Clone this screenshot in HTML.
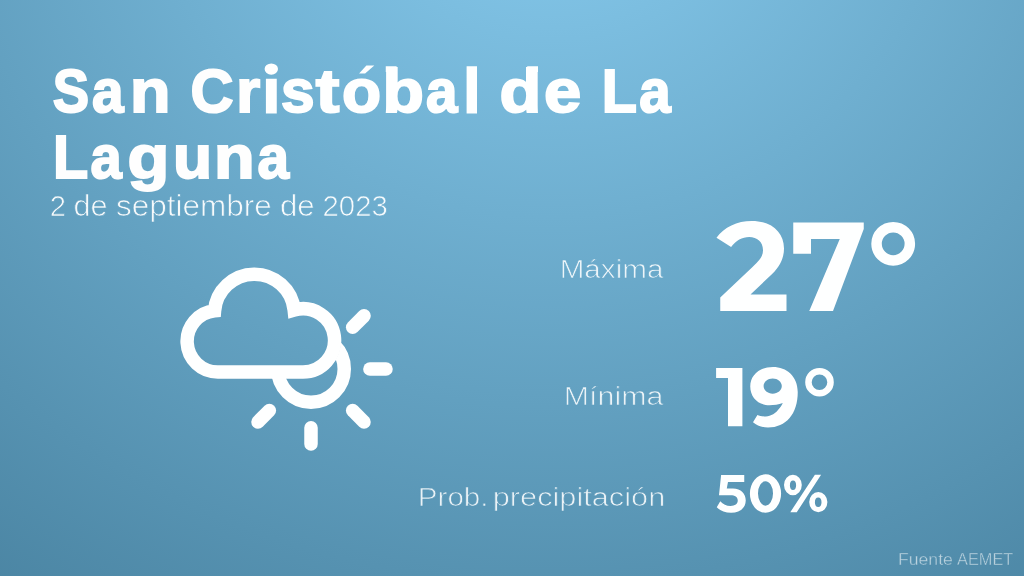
<!DOCTYPE html>
<html lang="es"><head><meta charset="utf-8"><title>El tiempo</title>
<style>
html,body{margin:0;padding:0}
body{width:1024px;height:576px;overflow:hidden;position:relative;background:radial-gradient(ellipse 1200px 1100px at 550px -150px,rgb(136,204,239) 0%,rgb(61,117,146) 100%);}
svg{position:absolute;left:0;top:0;font-family:"Liberation Sans",sans-serif;opacity:.999;will-change:opacity}
</style></head><body>
<svg width="1024" height="576" viewBox="0 0 1024 576">
<defs><radialGradient id="bg" gradientUnits="userSpaceOnUse" cx="550" cy="-150" r="1100" gradientTransform="translate(550 -150) scale(1.0909 1) translate(-550 150)"><stop offset="0" stop-color="rgb(136,204,239)"/><stop offset="1" stop-color="rgb(61,117,146)"/></radialGradient><mask id="m" maskUnits="userSpaceOnUse" x="0" y="0" width="1024" height="576"><rect width="1024" height="576" fill="#fff"/><path d="M217.80 371.95 A30.65 30.65 0 0 1 214.54 310.82 A40 40 0 0 1 294.18 309.99 A31.6 31.6 0 1 1 302.75 371.95 Z" fill="#000" stroke="#000" stroke-width="12.3" stroke-linejoin="miter"/></mask></defs>
<circle cx="311" cy="368.9" r="33.25" fill="none" stroke="#fff" stroke-width="13.5" mask="url(#m)"/>
<path d="M217.80 371.95 A30.65 30.65 0 0 1 214.54 310.82 A40 40 0 0 1 294.18 309.99 A31.6 31.6 0 1 1 302.75 371.95 Z" fill="none" stroke="#fff" stroke-width="13.5" stroke-linejoin="miter"/>
<g stroke="#fff" stroke-width="13.5" stroke-linecap="round"><line x1="352.65" y1="327.25" x2="364.03" y2="315.87"/><line x1="369.90" y1="368.90" x2="386.00" y2="368.90"/><line x1="352.65" y1="410.55" x2="364.03" y2="421.93"/><line x1="311.00" y1="427.80" x2="311.00" y2="443.90"/><line x1="269.35" y1="410.55" x2="257.97" y2="421.93"/></g>
<circle cx="893.2" cy="243.8" r="16.65" fill="none" stroke="#fff" stroke-width="10.5"/><circle cx="819.5" cy="382.2" r="11.05" fill="none" stroke="#fff" stroke-width="6.5"/>
<g fill="#fff" fill-rule="evenodd">
<path d="M716.5 237.75C724 227 737 220.9 751.75 220.9C771 220.9 784 232 784 248.4C784 256 781.5 265 772.1 274L750.5 294.4H786.5V311H720.25V297.5L752.5 267C760 260 763 256 763 250.25C763 242 757 237.1 749.25 237.1C742 237.1 736 240.5 731.1 247.1Z"/>
<path d="M793.25 222.5H863.75V229L833 311H809.25L839.75 239H811V253.75H793.25Z"/>
<path d="M716.1 368.1H742.4V426.25H728V378.1H716.1Z"/>
<path d="M773 366.9C786.5 366.9 797.75 376 797.75 392C797.75 414 786 427.5 768 427.5C762 427.5 757 425.5 753 422.25L757.4 415C762 417.5 772 417.5 778 410C780.5 407.5 782 405 782.75 403.1C778.5 404.6 774 405.3 769.5 405.3C758.5 405.3 750.25 397.5 750.25 386.5C750.25 375 760 366.9 773 366.9ZM772.7 378.5C767.7 378.5 763.6 381.9 763.6 386.1C763.6 390.3 767.7 393.7 772.7 393.7C777.7 393.7 781.8 390.3 781.8 386.1C781.8 381.9 777.7 378.5 772.7 378.5Z"/>

<path d="M721.1 475H744.25V481.9H728L726.75 488.5H733C741 488.5 745.75 493.5 745.75 500.6C745.75 508 740 512.75 731.1 512.75C725 512.75 720 510.5 716.75 507.25L720.25 501.25C723 504 726.5 506 730.5 506C735 506 737.75 504 737.75 500.6C737.75 497 735 495.25 730.5 495.25H719Z"/>
<path d="M749.90 493.60A15.6 19.2 0 1 0 781.10 493.60A15.6 19.2 0 1 0 749.90 493.60ZM758.00 493.45A7.5 12.2 0 1 0 773.00 493.45A7.5 12.2 0 1 0 758.00 493.45Z"/>
<path d="M784.00 485.00A8.9 10.25 0 1 0 801.80 485.00A8.9 10.25 0 1 0 784.00 485.00ZM789.90 485.30A3.1 4.7 0 1 0 796.10 485.30A3.1 4.7 0 1 0 789.90 485.30ZM809.20 502.10A9.1 10.2 0 1 0 827.40 502.10A9.1 10.2 0 1 0 809.20 502.10ZM814.90 502.20A3.3 4.7 0 1 0 821.50 502.20A3.3 4.7 0 1 0 814.90 502.20ZM814.9 474.75H821.1L796.75 512.25H790.25Z"/>

<path d="M385.75 66.25H396.6V72H385.75ZM466.6 66.25H477V113.4H466.6ZM527.2 66.25H538V72H527.2ZM265.9 78.75H276.75V113.4H265.9ZM264.60 69.10A6.7 5.65 0 1 0 278.00 69.10A6.7 5.65 0 1 0 264.60 69.10Z"/>

<path d="M366.4 65.4H374.3L365.1 73.6H359.1Z"/>
</g>
<text transform="translate(52.79 112.40) scale(0.8880 1)" font-size="61.39" font-weight="bold" fill="#fff" stroke="#fff" stroke-width="2.0">S</text>
<text transform="translate(92.04 112.40) scale(0.9248 1)" font-size="61.39" font-weight="bold" fill="#fff" stroke="#fff" stroke-width="2.0">a</text>
<text transform="translate(129.94 112.40) scale(1.0781 1)" font-size="61.39" font-weight="bold" fill="#fff" stroke="#fff" stroke-width="2.0">n</text>
<text transform="translate(190.61 112.40) scale(0.9688 1)" font-size="61.39" font-weight="bold" fill="#fff" stroke="#fff" stroke-width="2.0">C</text>
<text transform="translate(236.15 112.40) scale(1.0030 1)" font-size="61.39" font-weight="bold" fill="#fff" stroke="#fff" stroke-width="2.0">r</text>
<text transform="translate(281.10 112.40) scale(0.9846 1)" font-size="61.39" font-weight="bold" fill="#fff" stroke="#fff" stroke-width="2.0">s</text>
<text transform="translate(315.66 112.40) scale(1.1560 1)" font-size="61.39" font-weight="bold" fill="#fff" stroke="#fff" stroke-width="2.0">t</text>
<text transform="translate(342.04 112.40) scale(1.0429 1)" font-size="61.39" font-weight="bold" fill="#fff" stroke="#fff" stroke-width="2.0">o</text>
<text transform="translate(382.62 112.40) scale(1.1038 1)" font-size="61.39" font-weight="bold" fill="#fff" stroke="#fff" stroke-width="2.0">b</text>
<text transform="translate(426.04 112.40) scale(0.9206 1)" font-size="61.39" font-weight="bold" fill="#fff" stroke="#fff" stroke-width="2.0">a</text>
<text transform="translate(499.48 112.40) scale(1.1142 1)" font-size="61.39" font-weight="bold" fill="#fff" stroke="#fff" stroke-width="2.0">d</text>
<text transform="translate(543.90 112.40) scale(1.0888 1)" font-size="61.39" font-weight="bold" fill="#fff" stroke="#fff" stroke-width="2.0">e</text>
<text transform="translate(601.84 112.40) scale(0.9389 1)" font-size="61.39" font-weight="bold" fill="#fff" stroke="#fff" stroke-width="2.0">L</text>
<text transform="translate(639.29 112.40) scale(0.9206 1)" font-size="61.39" font-weight="bold" fill="#fff" stroke="#fff" stroke-width="2.0">a</text>
<text transform="translate(53.09 178.00) scale(0.9389 1)" font-size="61.39" font-weight="bold" fill="#fff" stroke="#fff" stroke-width="2.0">L</text>
<text transform="translate(90.54 178.00) scale(0.9136 1)" font-size="61.39" font-weight="bold" fill="#fff" stroke="#fff" stroke-width="2.0">a</text>
<text transform="translate(127.58 178.00) scale(1.1142 1)" font-size="61.39" font-weight="bold" fill="#fff" stroke="#fff" stroke-width="2.0">g</text>
<text transform="translate(172.94 178.00) scale(1.0429 1)" font-size="61.39" font-weight="bold" fill="#fff" stroke="#fff" stroke-width="2.0">u</text>
<text transform="translate(213.93 178.00) scale(1.0827 1)" font-size="61.39" font-weight="bold" fill="#fff" stroke="#fff" stroke-width="2.0">n</text>
<text transform="translate(257.44 178.00) scale(0.9234 1)" font-size="61.39" font-weight="bold" fill="#fff" stroke="#fff" stroke-width="2.0">a</text>
<text x="49.77" y="216.35" textLength="16.26" lengthAdjust="spacingAndGlyphs" font-size="28.88" fill="rgba(255,255,255,0.95)" stroke="url(#bg)" stroke-width="0.7">2</text>
<text x="73.42" y="216.35" textLength="34.20" lengthAdjust="spacingAndGlyphs" font-size="28.88" fill="rgba(255,255,255,0.95)" stroke="url(#bg)" stroke-width="0.7">de</text>
<text x="116.13" y="216.35" textLength="155.63" lengthAdjust="spacingAndGlyphs" font-size="28.88" fill="rgba(255,255,255,0.95)" stroke="url(#bg)" stroke-width="0.7">septiembre</text>
<text x="279.90" y="216.35" textLength="34.75" lengthAdjust="spacingAndGlyphs" font-size="28.88" fill="rgba(255,255,255,0.95)" stroke="url(#bg)" stroke-width="0.7">de</text>
<text x="322.52" y="216.35" textLength="65.28" lengthAdjust="spacingAndGlyphs" font-size="28.88" fill="rgba(255,255,255,0.95)" stroke="url(#bg)" stroke-width="0.7">2023</text>
<text x="559.68" y="277.55" textLength="103.73" lengthAdjust="spacingAndGlyphs" font-size="25.69" fill="rgba(255,255,255,0.88)" stroke="url(#bg)" stroke-width="0.7">Máxima</text>
<text x="563.71" y="404.65" textLength="99.71" lengthAdjust="spacingAndGlyphs" font-size="25.83" fill="rgba(255,255,255,0.88)" stroke="url(#bg)" stroke-width="0.7">Mínima</text>
<text x="417.79" y="505.65" textLength="70.78" lengthAdjust="spacingAndGlyphs" font-size="26.27" fill="rgba(255,255,255,0.88)" stroke="url(#bg)" stroke-width="0.7">Prob.</text>
<text x="492.77" y="505.65" textLength="172.46" lengthAdjust="spacingAndGlyphs" font-size="26.27" fill="rgba(255,255,255,0.88)" stroke="url(#bg)" stroke-width="0.7">precipitación</text>
<text x="897.91" y="564.60" textLength="55.01" lengthAdjust="spacingAndGlyphs" font-size="16.98" fill="rgba(255,255,255,0.62)" stroke="url(#bg)" stroke-width="0.4">Fuente</text>
<text x="957.06" y="564.60" textLength="56.31" lengthAdjust="spacingAndGlyphs" font-size="16.98" fill="rgba(255,255,255,0.62)" stroke="url(#bg)" stroke-width="0.4">AEMET</text>
</svg>
</body></html>
